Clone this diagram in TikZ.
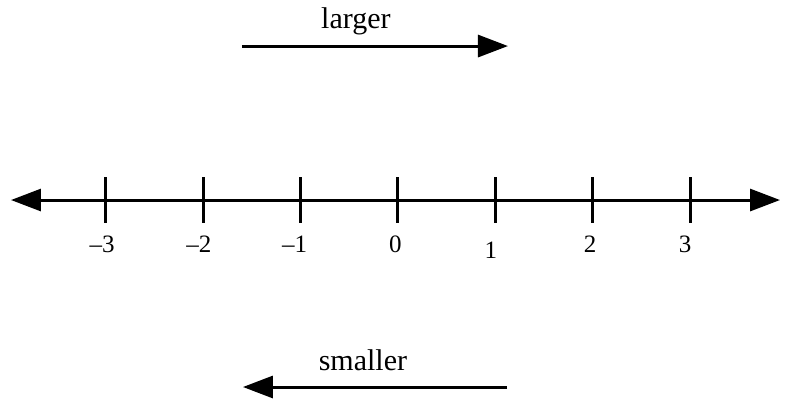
\documentclass[tikz,border=0pt]{standalone}
\usepackage{fontspec}
\setmainfont{Liberation Serif}
\usepackage{tikz}
\usetikzlibrary{arrows.meta}

\tikzset{
  onearrow/.style={-{Triangle[length=15pt,width=11pt]}},
  twoarrow/.style={{Triangle[length=15pt,width=11pt]}-{Triangle[length=15pt,width=11pt]}},
  ticklabel/.style={font=\fontsize{12.5}{15}\selectfont, anchor=base, inner sep=0pt},
  wordlabel/.style={font=\fontsize{15}{18}\selectfont, anchor=base, inner sep=0pt}
}

\begin{document}
\begin{tikzpicture}[x=48.67pt, y=48.67pt, line width=1.5pt]
  \useasboundingbox (-4.089,-2.075) rectangle (3.976,2.055);

  % Number line
  \coordinate (lineL) at (-3.976,0);
  \coordinate (lineR) at (3.925,0);
  \draw[twoarrow] (lineL) -- (lineR);

  % Ticks
  \foreach \i in {-3,...,3} {
    \draw (\i,0.236) -- (\i,-0.236);
  }

  % Tick labels
  \node[ticklabel] (lm3) at (-3.04,-0.54)  {--3};
  \node[ticklabel] (lm2) at (-2.045,-0.54) {--2};
  \node[ticklabel] (lm1) at (-1.063,-0.54) {--1};
  \node[ticklabel] (l0)  at (-0.026,-0.54) {0};
  \node[ticklabel] (l1)  at (0.955,-0.596) {1};
  \node[ticklabel] (l2)  at (1.973,-0.54)  {2};
  \node[ticklabel] (l3)  at (2.949,-0.54)  {3};

  % Larger
  \node[wordlabel] (larger) at (-0.432,1.767) {larger};
  \coordinate (largerL) at (-1.603,1.582);
  \coordinate (largerR) at (1.130,1.582);
  \draw[onearrow] (largerL) -- (largerR);

  % Smaller
  \node[wordlabel] (smaller) at (-0.36,-1.747) {smaller};
  \coordinate (smallerR) at (1.120,-1.921);
  \coordinate (smallerL) at (-1.593,-1.921);
  \draw[onearrow] (smallerR) -- (smallerL);
\end{tikzpicture}
\end{document}
